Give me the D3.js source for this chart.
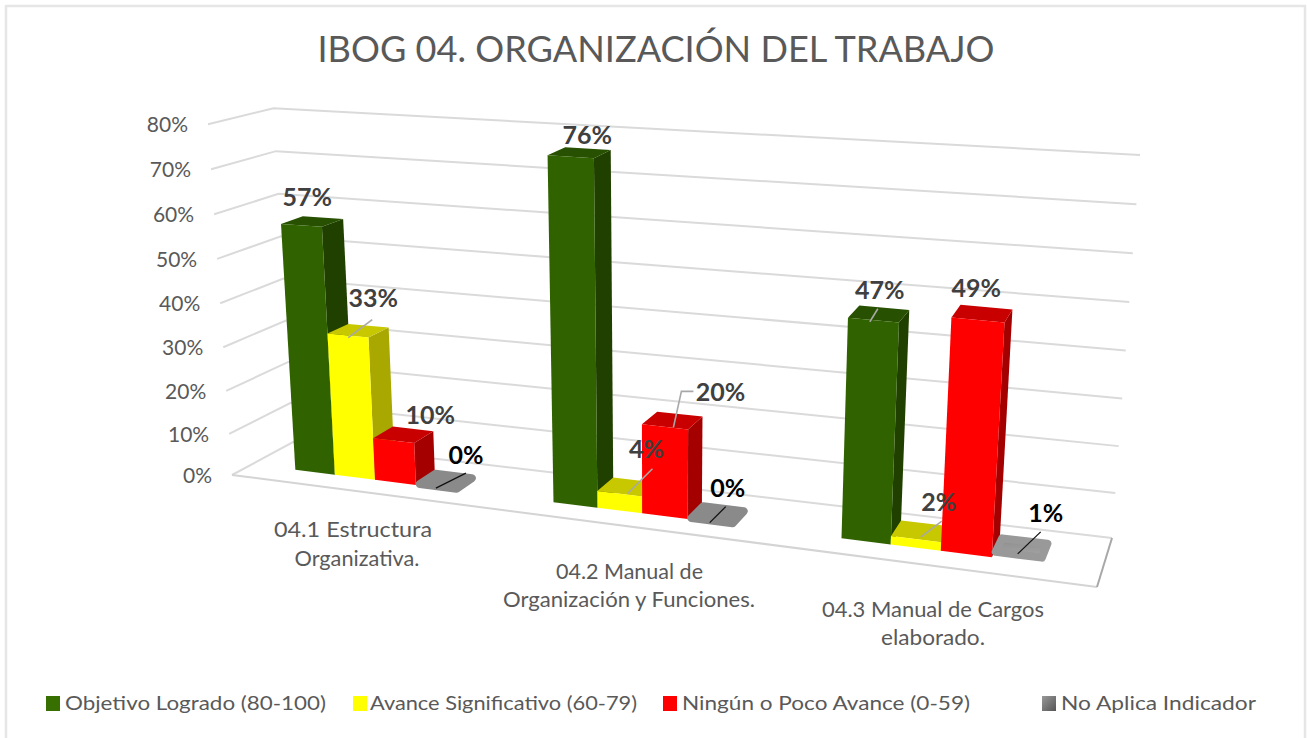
<!DOCTYPE html>
<html><head><meta charset="utf-8">
<script src="https://cdn.jsdelivr.net/npm/d3@7/dist/d3.min.js"></script>
<style>html,body{margin:0;padding:0;background:#fff;overflow:hidden}svg{display:block}text{font-family:Lato,"Open Sans",sans-serif}</style>
</head><body><svg id="c" width="1307" height="738"></svg>
<script>
// ---- data ----
const titleText = "IBOG 04. ORGANIZACIÓN DEL TRABAJO";
const categories = ["04.1 Estructura Organizativa.", "04.2 Manual de Organización y Funciones.", "04.3 Manual de Cargos elaborado."];
const categoryLines = [["04.1 Estructura","Organizativa."],["04.2 Manual de","Organización y Funciones."],["04.3 Manual de Cargos","elaborado."]];
const seriesNames = ["Objetivo Logrado (80-100)", "Avance Significativo (60-79)", "Ningún o Poco Avance (0-59)", "No Aplica Indicador"];
const objetivo = [57, 76, 47];
const avance = [33, 4, 2];
const ninguno = [10, 20, 49];
const noAplica = [0, 0, 1];
const yTicks = [0, 10, 20, 30, 40, 50, 60, 70, 80];

// ---- layout / style ----
const seriesValues = [objetivo, avance, ninguno, noAplica];
const palette = [
  {front:"#316200", top:"#275000", side:"#204000", legend:"#376f00"},
  {front:"#ffff00", top:"#c8c800", side:"#a8a800", legend:"#ffff00"},
  {front:"#ff0000", top:"#c80000", side:"#a50000", legend:"#ff0000"},
  {front:"#8a8a8a", top:"#8a8a8a", side:"#8a8a8a", legend:"#777"}
];
const svg = d3.select("#c");

// projective map of the unit square (u along categories, d into depth) onto the floor quad
function quad(p00, p10, p11, p01){
  const [x0,y0]=p00,[x1,y1]=p10,[x2,y2]=p11,[x3,y3]=p01;
  const sx=x0-x1+x2-x3, sy=y0-y1+y2-y3, dx1=x1-x2, dx2=x3-x2, dy1=y1-y2, dy2=y3-y2;
  const det=dx1*dy2-dx2*dy1, g=(sx*dy2-dx2*sy)/det, h=(dx1*sy-sx*dy1)/det;
  const a=x1-x0+g*x1,b=x3-x0+h*x3,d=y1-y0+g*y1,e=y3-y0+h*y3;
  return (u,v)=>{const w=1+g*u+h*v;return [(a*u+b*v+x0)/w,(d*u+e*v+y0)/w];};
}
const floorPlane = quad([232,475],[1097,587],[1112,538],[293,442]);
const vanish = [660,6727];              // vertical lines converge here, far below the chart
const yScale = d3.scalePow().exponent(1.03).domain([0,80]).range([0,1]);
const warp = t => 1.0668*t/(1+0.065*t);  // evens out bar widths along the category axis
const project = (t,d,v)=>{
  const u = (t===0||t===1) ? t : warp(t);
  const a=floorPlane(u,d), s=(0.0561+0.0088*u-0.003*d)*yScale(v);
  return [vanish[0]+(a[0]-vanish[0])*(1+s), vanish[1]+(a[1]-vanish[1])*(1+s)];
};
const uScale = d3.scaleBand().domain(d3.range(categories.length)).range([0,1]);
const barU = d3.scaleBand().domain(d3.range(seriesNames.length)).range([0,uScale.bandwidth()]).paddingOuter(1.125).paddingInner(0);
const depth = d3.scaleLinear().domain([0,1]).range([0.31,0.66]);

// ---- frame ----
svg.append("path").attr("d","M6,738V6H1305V738").attr("fill","none").attr("stroke","#e6e6e6").attr("stroke-width",2.5);

// ---- title ----
svg.append("text").attr("x",656).attr("y",62).attr("text-anchor","middle")
  .attr("font-size",37).attr("fill","#595959").attr("textLength",677).attr("lengthAdjust","spacingAndGlyphs").text(titleText);

// ---- grid ----
const line = d3.line();
const grid = svg.append("g").attr("fill","none").attr("stroke","#dadada").attr("stroke-width",2);
yTicks.forEach(v=>{
  grid.append("path").attr("d",line([project(0,0,v),project(0,1,v),project(1,1,v)]));
});
grid.append("path").attr("d",line([project(0,0,0),project(1,0,0)])).attr("stroke","#d4d4d4");
grid.append("path").attr("d",line([project(1,0,0),project(1,1,0)])).attr("stroke","#a8a8a8");

// ---- y labels ----
yTicks.forEach(v=>{
  const p=project(0,0,v);
  svg.append("text").attr("x",p[0]-20).attr("y",p[1]+8).attr("text-anchor","end")
    .attr("font-size",21).attr("fill","#595959").text(v+"%");
});

// ---- bars ----
const barsG = svg.append("g");
const defs = svg.append("defs");
const grad = defs.append("linearGradient").attr("id","grayG").attr("x1",0).attr("y1",0).attr("x2",0).attr("y2",1);
grad.append("stop").attr("offset",0).attr("stop-color","#8c8c8c");
grad.append("stop").attr("offset",1).attr("stop-color","#a6a6a6");

const poly = pts => line(pts)+"Z";
const topCenters = {};
categories.forEach((c,ci)=>{
  seriesNames.forEach((s,si)=>{
    const v=seriesValues[si][ci];
    const u0=uScale(ci)+barU(si), u1=u0+barU.bandwidth();
    const d0=depth(0), d1=depth(1);
    const P=project;
    topCenters[ci+"_"+si]=P((u0+u1)/2,(d0+d1)/2,v);
    const g=barsG.append("g");
    if(si===3){
      const k=0.003, e=0.03;
      g.append("path").attr("d",poly([P(u0+k,d0+e,v),P(u1-k,d0+e,v),P(u1-k,d1-e,v),P(u0+k,d1-e,v)]))
        .attr("fill",ci===2?"url(#grayG)":"#8a8a8a").attr("stroke",ci===2?"#999":"#8a8a8a").attr("stroke-width",8).attr("stroke-linejoin","round");
      return;
    }
    g.append("path").attr("d",poly([P(u1,d0,0),P(u1,d1,0),P(u1,d1,v),P(u1,d0,v)])).attr("fill",palette[si].side);
    g.append("path").attr("d",poly([P(u0,d0,v),P(u1,d0,v),P(u1,d1,v),P(u0,d1,v)])).attr("fill",palette[si].top);
    g.append("path").attr("d",poly([P(u0,d0,0),P(u1,d0,0),P(u1,d0,v),P(u0,d0,v)])).attr("fill",palette[si].front);
  });
});

// ---- data labels & leaders (offsets from the top-centre of each bar) ----
const labelLayout = {
  "0_0":{dx:-5,dy:-15},
  "0_1":{dx:15,dy:-24,start:[-10,7],leader:[[24,-18]]},
  "0_2":{dx:27,dy:-11},
  "0_3":{dx:20,dy:-17,start:[-10,7],leader:[[30,-15]],black:true},
  "1_0":{dx:8,dy:-9},
  "1_1":{dx:19,dy:-29,start:[0,7],leader:[[25,-25]]},
  "1_2":{dx:48,dy:-19,start:[1,7],leader:[[8,-36],[20,-36]]},
  "1_3":{dx:10,dy:-18,start:[-8,8],leader:[[16,-16]],black:true},
  "2_0":{dx:1,dy:-15,start:[-9,8],leader:[[8,-13]]},
  "2_1":{dx:18,dy:-20,start:[0,6],leader:[[21,-16]]},
  "2_2":{dx:-6,dy:-16},
  "2_3":{dx:24,dy:-26,start:[-4,6],leader:[[23,-22]],black:true}
};
categories.forEach((c,ci)=>{
  seriesNames.forEach((s,si)=>{
    const key=ci+"_"+si, l=labelLayout[key], p=topCenters[key], v=seriesValues[si][ci];
    if(l.leader){
      const s0=[p[0]+l.start[0],p[1]+l.start[1]];
      const pts=[s0].concat(l.leader.map(o=>[s0[0]+o[0],s0[1]+o[1]]));
      svg.append("path").attr("d",line(pts)).attr("fill","none").attr("stroke",l.black?"#111":"#a8a8a8").attr("stroke-width",l.black?1.3:1.6);
    }
    svg.append("text").attr("x",p[0]+l.dx).attr("y",p[1]+l.dy).attr("text-anchor","middle")
      .attr("font-size",25).attr("font-weight",700).attr("fill",l.black?"#000":"#404040").text(v+"%");
  });
});

// ---- category labels ----
const catAnchor = [[[353,537],[357,566]],[[629.5,579],[629,607]],[[933,617],[933,645]]];
const catWidth = [[158,125],[147,252],[222,104]];
categoryLines.forEach((lines,i)=>{
  lines.forEach((t,j)=>{
    svg.append("text").attr("x",catAnchor[i][j][0]).attr("y",catAnchor[i][j][1]).attr("text-anchor","middle")
      .attr("font-size",21).attr("fill","#595959").attr("textLength",catWidth[i][j]).attr("lengthAdjust","spacingAndGlyphs").text(t);
  });
});

// ---- legend ----
const legendX = [46,353,663,1042];
const legendTextX = [65,370,682,1061];
const legendW = [261,267,288,195];
const gradL = defs.append("linearGradient").attr("id","grayL").attr("x1",0).attr("y1",0).attr("x2",1).attr("y2",1);
gradL.append("stop").attr("offset",0).attr("stop-color","#999");
gradL.append("stop").attr("offset",1).attr("stop-color","#555");
seriesNames.forEach((s,i)=>{
  svg.append("rect").attr("x",legendX[i]).attr("y",696).attr("width",14).attr("height",15)
    .attr("fill",i===3?"url(#grayL)":palette[i].legend);
  svg.append("text").attr("x",legendTextX[i]).attr("y",710)
    .attr("font-size",20).attr("fill","#595959").attr("textLength",legendW[i]).attr("lengthAdjust","spacingAndGlyphs").text(s);
});
</script></body></html>
